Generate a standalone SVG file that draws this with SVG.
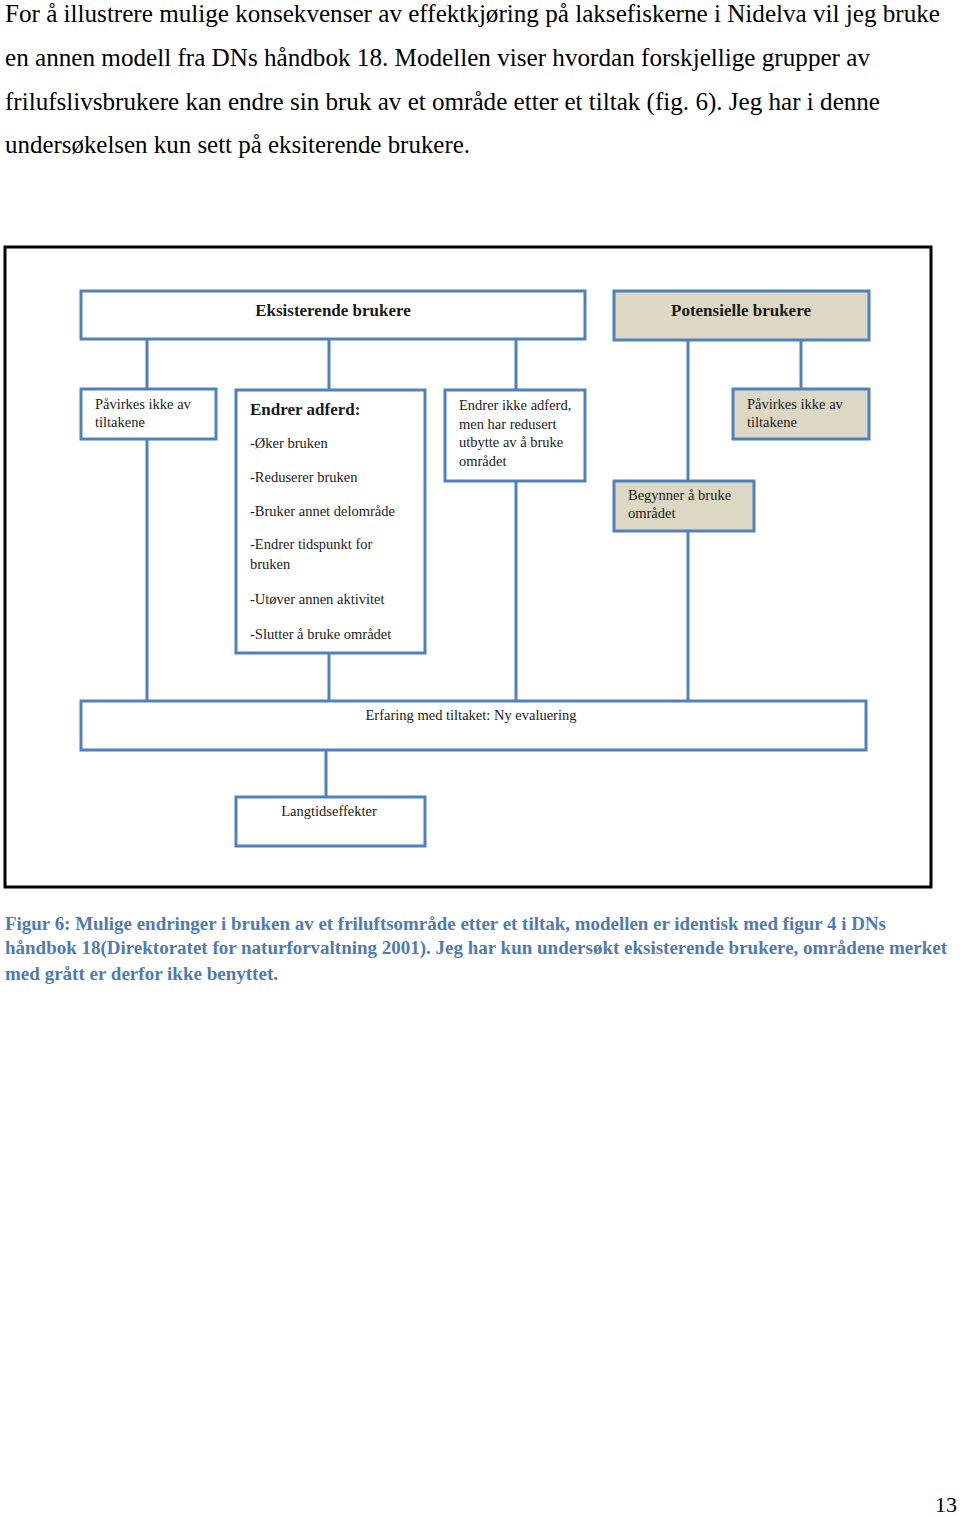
<svg xmlns="http://www.w3.org/2000/svg" width="960" height="1516" viewBox="0 0 960 1516">
<style>
.body{font-family:"Liberation Serif",serif;font-size:25px;fill:#000}
.cap{font-family:"Liberation Serif",serif;font-size:19px;font-weight:bold;fill:#4f7bb5}
.box{fill:#fff;stroke:#4f81bd;stroke-width:3}
.pot{fill:#ddd8c4;stroke:#4f81bd;stroke-width:3}
.t{font-family:"Liberation Serif",serif;font-size:14.5px;fill:#1a1a1a}
.h{font-family:"Liberation Serif",serif;font-size:17px;font-weight:bold;fill:#1a1a1a}
.c{stroke:#4f81bd;stroke-width:3;fill:none}
</style>
<rect width="960" height="1516" fill="#fff"/>
<g id="paragraph">
<text class="body" x="5" y="22" textLength="935" lengthAdjust="spacingAndGlyphs">For å illustrere  mulige  konsekvenser  av effektkjøring  på laksefiskerne  i Nidelva  vil  jeg bruke</text>
<text class="body" x="5" y="66" textLength="865" lengthAdjust="spacingAndGlyphs">en annen  modell  fra DNs håndbok  18. Modellen  viser  hvordan  forskjellige  grupper  av</text>
<text class="body" x="5" y="110" textLength="875" lengthAdjust="spacingAndGlyphs">frilufslivsbrukere  kan endre sin bruk  av et område  etter et tiltak  (fig.  6). Jeg har i denne</text>
<text class="body" x="5" y="153" textLength="465" lengthAdjust="spacingAndGlyphs">undersøkelsen  kun sett på eksiterende  brukere.</text>
</g>
<rect id="frame" x="5" y="247" width="926" height="640" fill="#fff" stroke="#000" stroke-width="3"/>
<g id="connectors">
<line class="c" x1="147" y1="339" x2="147" y2="701"/>
<line class="c" x1="329" y1="339" x2="329" y2="701"/>
<line class="c" x1="516" y1="339" x2="516" y2="701"/>
<line class="c" x1="688" y1="340" x2="688" y2="701"/>
<line class="c" x1="801" y1="340" x2="801" y2="389"/>
<line class="c" x1="326" y1="750" x2="326" y2="797"/>
</g>
<g id="eksisterende">
<rect class="box" x="81" y="291" width="504" height="48"/>
<text class="h" x="333" y="316" text-anchor="middle">Eksisterende brukere</text>
</g>
<g id="potensielle">
<rect class="pot" x="614" y="291" width="255" height="49"/>
<text class="h" x="741" y="316" text-anchor="middle">Potensielle brukere</text>
</g>
<g id="pavirkes-eks">
<rect class="box" x="81" y="389" width="135" height="50"/>
<text class="t" x="95" y="409">Påvirkes ikke av</text>
<text class="t" x="95" y="427">tiltakene</text>
</g>
<g id="endrer-adferd">
<rect class="box" x="236" y="390" width="189" height="263"/>
<text class="h" x="250" y="415">Endrer adferd:</text>
<text class="t" x="250" y="448">-Øker bruken</text>
<text class="t" x="250" y="482">-Reduserer bruken</text>
<text class="t" x="250" y="516">-Bruker annet delområde</text>
<text class="t" x="250" y="549">-Endrer tidspunkt for</text>
<text class="t" x="250" y="569">bruken</text>
<text class="t" x="250" y="604">-Utøver annen aktivitet</text>
<text class="t" x="250" y="639">-Slutter å bruke området</text>
</g>
<g id="endrer-ikke">
<rect class="box" x="445" y="390" width="140" height="91"/>
<text class="t" x="459" y="410">Endrer ikke adferd,</text>
<text class="t" x="459" y="429">men har redusert</text>
<text class="t" x="459" y="447">utbytte av å bruke</text>
<text class="t" x="459" y="466">området</text>
</g>
<g id="pavirkes-pot">
<rect class="pot" x="733" y="389" width="136" height="50"/>
<text class="t" x="747" y="409">Påvirkes ikke av</text>
<text class="t" x="747" y="427">tiltakene</text>
</g>
<g id="begynner">
<rect class="pot" x="614" y="481" width="140" height="50"/>
<text class="t" x="628" y="500">Begynner å bruke</text>
<text class="t" x="628" y="518">området</text>
</g>
<g id="erfaring">
<rect class="box" x="81" y="701" width="785" height="49"/>
<text class="t" x="471" y="720" text-anchor="middle">Erfaring med tiltaket: Ny evaluering</text>
</g>
<g id="langtid">
<rect class="box" x="236" y="797" width="189" height="49"/>
<text class="t" x="329" y="816" text-anchor="middle">Langtidseffekter</text>
</g>
<g id="caption">
<text class="cap" x="5" y="930" textLength="881" lengthAdjust="spacingAndGlyphs">Figur 6: Mulige endringer i bruken av et friluftsområde etter et tiltak, modellen er identisk med figur 4 i  DNs</text>
<text class="cap" x="5" y="954" textLength="942" lengthAdjust="spacingAndGlyphs">håndbok 18(Direktoratet for naturforvaltning 2001). Jeg har kun undersøkt eksisterende brukere, områdene merket</text>
<text class="cap" x="5" y="980" textLength="273" lengthAdjust="spacingAndGlyphs">med grått er derfor ikke benyttet.</text>
</g>
<text id="page-number" x="957" y="1512" text-anchor="end" style="font-family:'Liberation Serif',serif;font-size:22px;fill:#000">13</text>
</svg>
